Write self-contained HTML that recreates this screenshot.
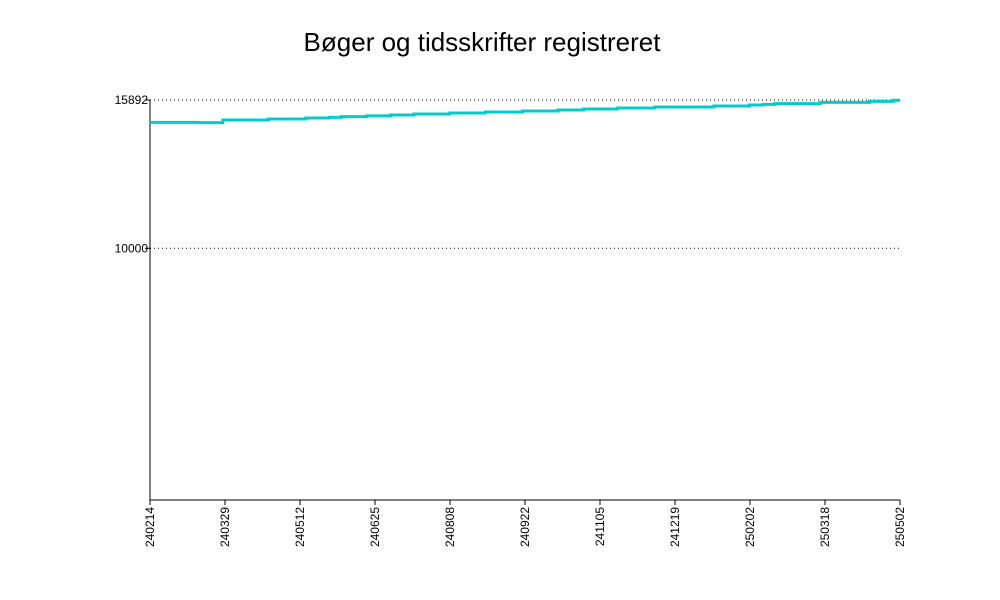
<!DOCTYPE html>
<html><head><meta charset="utf-8"><style>body{margin:0;background:#fff}svg{display:block;font-family:"Liberation Sans",sans-serif}</style></head>
<body>
<svg id="c" width="1000" height="600">
<text x="482" y="51" font-size="26" text-anchor="middle">Bøger og tidsskrifter registreret</text>
</svg>
<script>
const xLabels=["240214","240329","240512","240625","240808","240922","241105","241219","250202","250318","250502"];
const yTicks=[10000,15892];
const stepDays=[0,28,43,70,92,106,113,128,142,156,177,198,220,241,256,276,298,333,354,362,369,396,425,439];
const stepValues=[15005,14992,15097,15137,15177,15200,15230,15260,15296,15336,15375,15415,15455,15495,15534,15574,15614,15654,15693,15720,15750,15800,15839,15880];
const totalDays=443, yMax=15892;
const L=150,R=900,T=100,B=500;
const sx=d=>L+d/totalDays*(R-L);
const sy=v=>B-v/yMax*(B-T);
const svg=document.getElementById('c');const NS='http://www.w3.org/2000/svg';
function mk(t,a,p){const e=document.createElementNS(NS,t);for(const k in a)e.setAttribute(k,a[k]);(p||svg).appendChild(e);return e;}
yTicks.forEach(v=>{
 const g=mk('line',{x1:L,x2:R,y1:sy(v),y2:sy(v),stroke:'#000','stroke-dasharray':'1,3','stroke-width':1});
 
 
 const tk=mk('line',{x1:L-5,x2:L,y1:sy(v),y2:sy(v),stroke:'#000'});
 
 
 const t=mk('text',{x:L-2,y:sy(v)+4,'font-size':12,'text-anchor':'end'});t.textContent=v;
 
 
});
const ya=mk('line',{x1:L,x2:L,y1:T,y2:B,stroke:'#000'});


const xa=mk('line',{x1:L,x2:R,y1:B,y2:B,stroke:'#000'});


xLabels.forEach((s,i)=>{
 const x=L+i*(R-L)/(xLabels.length-1);
 const tk=mk('line',{x1:x,x2:x,y1:B,y2:B+5,stroke:'#000'});
 
 
 const t=mk('text',{x:0,y:0,'font-size':12,'text-anchor':'end',transform:`translate(${x+4},${B+7}) rotate(-90)`});t.textContent=s;
 
 
});
let d='';
stepDays.forEach((dd,i)=>{const x=sx(dd),y=sy(stepValues[i]);d+=(i?`L${x},${sy(stepValues[i-1])}L${x},${y}`:`M${x},${y}`);});
d+=`L${sx(totalDays)},${sy(stepValues[stepValues.length-1])}`;
const p=mk('path',{d:d,fill:'none',stroke:'#00cccc','stroke-width':3});


</script>
</body></html>
